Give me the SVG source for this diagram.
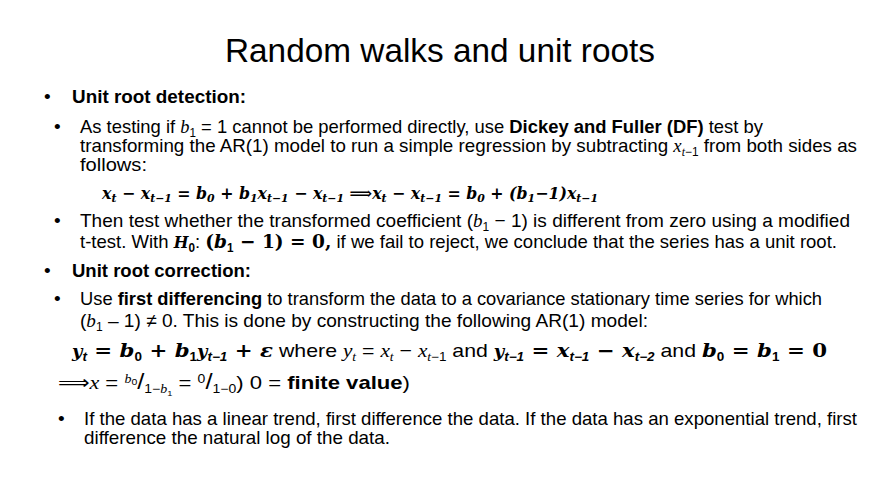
<svg xmlns="http://www.w3.org/2000/svg" width="880" height="495" viewBox="0 0 880 495">
<style>
text{font-family:"Liberation Sans",Arial,sans-serif;font-size:19px;fill:#000}
.t{font-size:34px}
.m{font-family:"Liberation Serif","DejaVu Serif",serif;font-style:italic}
.mb{font-family:"DejaVu Serif","Liberation Serif",serif;font-style:italic;font-weight:bold;font-size:16px}
.b{font-weight:bold}
.s{font-size:12px}
</style>
<rect width="880" height="495" fill="#fff"/>
<text class="t" x="440" y="62" text-anchor="middle" textLength="430" lengthAdjust="spacingAndGlyphs">Random walks and unit roots</text>
<text x="44" y="103">•</text>
<text class="b" x="72" y="103" textLength="174" lengthAdjust="spacingAndGlyphs">Unit root detection:</text>
<text x="54" y="133">•</text>
<text x="80" y="133" textLength="683" lengthAdjust="spacingAndGlyphs">As testing if <tspan class="m">b</tspan><tspan class="s" dy="4">1</tspan><tspan dy="-4"> = 1  cannot be performed directly, use </tspan><tspan class="b">Dickey and Fuller (DF)</tspan> test by</text>
<text x="80" y="152" textLength="777" lengthAdjust="spacingAndGlyphs">transforming the AR(1) model to run a simple regression by subtracting <tspan class="m">x</tspan><tspan class="s" dy="4"><tspan class="m">t</tspan>−1</tspan><tspan dy="-4"> from both sides as</tspan></text>
<text x="80" y="171" textLength="67" lengthAdjust="spacingAndGlyphs">follows:</text>
<text class="mb" x="102" y="199" textLength="496" lengthAdjust="spacingAndGlyphs">x<tspan font-size="11" dy="3">t</tspan><tspan dy="-3"> − x</tspan><tspan font-size="11" dy="3">t−1</tspan><tspan dy="-3"> = b</tspan><tspan font-size="11" dy="3">0</tspan><tspan dy="-3"> + b</tspan><tspan font-size="11" dy="3">1</tspan><tspan dy="-3">x</tspan><tspan font-size="11" dy="3">t−1</tspan><tspan dy="-3"> − x</tspan><tspan font-size="11" dy="3">t−1</tspan><tspan dy="-3"> ⟹x</tspan><tspan font-size="11" dy="3">t</tspan><tspan dy="-3"> − x</tspan><tspan font-size="11" dy="3">t−1</tspan><tspan dy="-3"> = b</tspan><tspan font-size="11" dy="3">0</tspan><tspan dy="-3"> + (b</tspan><tspan font-size="11" dy="3">1</tspan><tspan dy="-3">−1)x</tspan><tspan font-size="11" dy="3">t−1</tspan></text>
<text x="54" y="227">•</text>
<text x="80" y="227" textLength="770" lengthAdjust="spacingAndGlyphs">Then test whether the transformed coefficient (<tspan class="m">b</tspan><tspan class="s" dy="4">1</tspan><tspan dy="-4"> − 1)  is different from zero using a modified</tspan></text>
<text x="80" y="248" textLength="757" lengthAdjust="spacingAndGlyphs">t-test. With <tspan class="mb" font-size="18">H</tspan><tspan class="s b" dy="4">0</tspan><tspan dy="-4">: </tspan><tspan class="b" font-family="DejaVu Serif,serif">(<tspan font-style="italic">b</tspan></tspan><tspan class="s b" dy="4">1</tspan><tspan dy="-4" class="b" font-family="DejaVu Serif,serif"> − 1) = 0,</tspan> if we fail to reject, we conclude that the series has a unit root.</text>
<text x="44" y="277">•</text>
<text class="b" x="72" y="277" textLength="179" lengthAdjust="spacingAndGlyphs">Unit root correction:</text>
<text x="54" y="305">•</text>
<text x="80" y="305" textLength="742" lengthAdjust="spacingAndGlyphs">Use <tspan class="b">first differencing</tspan> to transform the data to a covariance stationary time series for which</text>
<text x="80" y="327" textLength="568" lengthAdjust="spacingAndGlyphs">(<tspan class="m">b</tspan><tspan class="s" dy="4">1</tspan><tspan dy="-4"> – 1) ≠ 0. This is done by constructing the following AR(1) model:</tspan></text>
<text x="72" y="357" textLength="755" lengthAdjust="spacingAndGlyphs"><tspan class="mb" font-size="18">y</tspan><tspan class="s b" dy="4" font-style="italic">t</tspan><tspan dy="-4" class="b" font-family="DejaVu Serif,serif"> = <tspan font-style="italic">b</tspan></tspan><tspan class="s b" dy="4">0</tspan><tspan dy="-4" class="b" font-family="DejaVu Serif,serif"> + <tspan font-style="italic">b</tspan></tspan><tspan class="s b" dy="4">1</tspan><tspan dy="-4" class="mb" font-size="18">y</tspan><tspan class="s b" dy="4" font-style="italic">t−1</tspan><tspan dy="-4" class="b" font-family="DejaVu Serif,serif"> + <tspan font-style="italic">ε</tspan></tspan> where <tspan class="m">y</tspan><tspan class="s m" dy="4">t</tspan><tspan dy="-4"> = </tspan><tspan class="m">x</tspan><tspan class="s m" dy="4">t</tspan><tspan dy="-4"> − </tspan><tspan class="m">x</tspan><tspan class="s" dy="4"><tspan class="m">t</tspan>−1</tspan><tspan dy="-4"> and  </tspan><tspan class="mb" font-size="18">y</tspan><tspan class="s b" dy="4" font-style="italic">t−1</tspan><tspan dy="-4" class="b" font-family="DejaVu Serif,serif"> = <tspan font-style="italic">x</tspan></tspan><tspan class="s b" dy="4" font-style="italic">t−1</tspan><tspan dy="-4" class="b" font-family="DejaVu Serif,serif"> − <tspan font-style="italic">x</tspan></tspan><tspan class="s b" dy="4" font-style="italic">t−2</tspan><tspan dy="-4"> and </tspan><tspan class="b" font-family="DejaVu Serif,serif" font-style="italic">b</tspan><tspan class="s b" dy="4">0</tspan><tspan dy="-4" class="b" font-family="DejaVu Serif,serif"> = <tspan font-style="italic">b</tspan></tspan><tspan class="s b" dy="4">1</tspan><tspan dy="-4" class="b" font-family="DejaVu Serif,serif"> = 0</tspan></text>
<text x="58" y="389" textLength="352" lengthAdjust="spacingAndGlyphs">⟹<tspan class="m">x</tspan>     = <tspan class="s m" dy="-6">b</tspan><tspan font-size="9" dy="2">0</tspan><tspan dy="4" font-size="22">/</tspan><tspan class="s" dy="4">1−<tspan class="m">b</tspan></tspan><tspan font-size="8" dy="3">1</tspan><tspan dy="-7"> = </tspan><tspan class="s" dy="-6">0</tspan><tspan dy="6" font-size="22">/</tspan><tspan class="s" dy="4">1−0</tspan><tspan dy="-4">) 0 = </tspan><tspan class="b">finite value</tspan>)</text>
<text x="58" y="425">•</text>
<text x="84" y="425" textLength="773" lengthAdjust="spacingAndGlyphs">If the data has a linear trend, first difference the data. If the data has an exponential trend, first</text>
<text x="84" y="444" textLength="306" lengthAdjust="spacingAndGlyphs">difference the natural log of the data.</text>
</svg>
